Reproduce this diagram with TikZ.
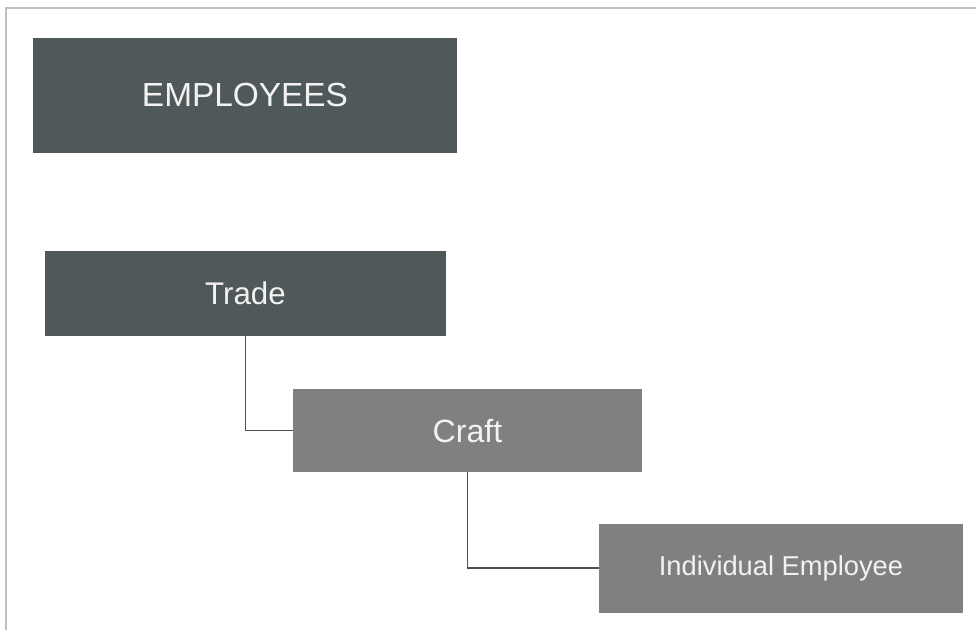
\documentclass[tikz,border=0pt]{standalone}
\usepackage{fontspec}
\setmainfont{Liberation Sans}
\usepackage{xcolor}
\usepackage{tikz}
\usetikzlibrary{positioning}
\definecolor{SlateBox}{RGB}{80,89,89}
\definecolor{GreyBox}{RGB}{128,128,128}
\definecolor{LinkGrey}{RGB}{80,80,80}
\definecolor{FrameGrey}{RGB}{190,193,196}
\definecolor{TextWhite}{RGB}{242,242,242}

\begin{document}
\begin{tikzpicture}[x=1pt, y=-1pt,
          lvl/.style={rectangle, inner sep=0pt, align=center, text=TextWhite},
          link/.style={draw=LinkGrey, line width=1.7pt}
        ]
        \useasboundingbox (0,0) rectangle (976,630);
        % frame of the sheet
        \draw[FrameGrey, line width=1.6pt] (6,630) -- (6,8) -- (976,8);

        \node[lvl, fill=SlateBox, minimum width=424pt, minimum height=115pt,
              font=\fontsize{33.4}{36}\selectfont]
              (emp) at (245, 95) {EMPLOYEES};

        \node[lvl, fill=SlateBox, minimum width=401pt, minimum height=85pt,
              font=\fontsize{31.3}{34}\selectfont]
              (trade) at (245.5, 293.5) {Trade};
        \node[lvl, fill=GreyBox, minimum width=349pt, minimum height=83pt,
              font=\fontsize{32.2}{34}\selectfont]
              (craft) at (467.5, 430.5) {Craft};
        \node[lvl, fill=GreyBox, minimum width=364pt, minimum height=89pt,
              font=\fontsize{27.3}{30}\selectfont]
              (indiv) at (781, 568) {Individual Employee};

        \draw[link] (trade.south) |- (craft.west);
        \draw[link] (craft.south) |- (indiv.west);
      \end{tikzpicture}
\end{document}
